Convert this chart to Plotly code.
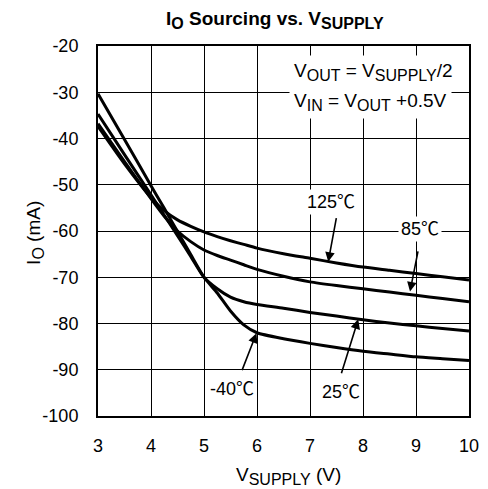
import plotly.graph_objects as go

v_supply = [3, 3.5, 4, 4.25, 4.5, 4.75, 5, 5.25, 5.5, 5.75, 6, 6.5, 7, 7.5, 8, 8.5, 9, 9.5, 10]
io_m40 = [-30.3, -40.2, -50.2, -55.1, -60.1, -65.1, -70.0, -73.4, -77.3, -80.3, -82.0, -83.3, -84.3, -85.2, -86.0, -86.6, -87.2, -87.6, -88.0]
io_25 = [-34.7, -43.5, -52.2, -56.6, -61.0, -65.5, -70.0, -72.5, -74.3, -75.3, -75.9, -76.7, -77.6, -78.4, -79.2, -79.9, -80.5, -81.1, -81.6]
io_85 = [-36.8, -45.0, -53.0, -56.8, -60.0, -62.3, -64.1, -65.3, -66.3, -67.3, -68.3, -69.8, -71.0, -71.8, -72.5, -73.2, -73.9, -74.6, -75.3]
io_125 = [-37.4, -45.5, -52.8, -55.6, -57.6, -59.0, -60.2, -61.2, -62.1, -62.9, -63.7, -64.9, -65.9, -66.9, -67.8, -68.5, -69.2, -69.9, -70.6]

series = [("-40℃", io_m40), ("25℃", io_25), ("85℃", io_85), ("125℃", io_125)]

x_ticks = [3, 4, 5, 6, 7, 8, 9, 10]
y_ticks = [-20, -30, -40, -50, -60, -70, -80, -90, -100]

# label text position, arrow tail, arrow head (data coordinates)
labels = [
    ("125℃", (7.395, -53.8), (7.502, -56.9), (7.344, -66.65)),
    ("85℃", (9.075, -59.6), (9.043, -64.1), (8.887, -73.1)),
    ("25℃", (7.584, -94.8), (7.584, -91.1), (7.91, -79.1)),
    ("-40℃", (5.525, -94.15), (5.708, -90.4), (5.99, -82.1)),
]

FONT = "Arial, Liberation Sans, Noto Sans CJK SC, DejaVu Sans, sans-serif"


def sub(t, px):
    return "<sub><span style='font-size:%dpx'>%s</span></sub>" % (px, t)


fig = go.Figure()
for name, vals in series:
    fig.add_trace(go.Scatter(x=v_supply, y=vals, mode="lines", name=name,
                             line=dict(color="black", width=3, shape="spline", smoothing=0.6),
                             showlegend=False, hoverinfo="skip"))

ann = []
for text, (tx, ty), (ax, ay), (hx, hy) in labels:
    ann.append(dict(x=tx, y=ty, xref="x", yref="y", text=text, showarrow=False,
                    bgcolor="white", borderpad=2, font=dict(size=18, color="black", family=FONT)))
    ann.append(dict(x=hx, y=hy, ax=ax, ay=ay, xref="x", yref="y", axref="x", ayref="y",
                    text="", showarrow=True, arrowhead=2, arrowsize=1.2, arrowwidth=1.6,
                    arrowcolor="black", standoff=0))

ann.append(dict(x=6.6, y=-25.6, xref="x", yref="y", xanchor="left", yanchor="middle",
                text="V" + sub("OUT", 16) + " = V" + sub("SUPPLY", 16) + "/2", showarrow=False,
                bgcolor="white", borderpad=4, font=dict(size=19, color="black", family=FONT)))
ann.append(dict(x=6.6, y=-32.1, xref="x", yref="y", xanchor="left", yanchor="middle",
                text="V" + sub("IN", 16) + " = V" + sub("OUT", 16) + " +0.5V", showarrow=False,
                bgcolor="white", borderpad=4, font=dict(size=19, color="black", family=FONT)))

ann.append(dict(x=0.477, y=1.069, xref="paper", yref="paper", showarrow=False,
                xanchor="center", yanchor="middle",
                text="<b>I" + sub("O", 16) + " Sourcing vs. V" + sub("SUPPLY", 16) + "</b>",
                font=dict(size=19, color="black", family=FONT)))
ann.append(dict(x=-0.168, y=0.494, xref="paper", yref="paper", showarrow=False, textangle=-90,
                xanchor="center", yanchor="middle",
                text="I" + sub("O", 16) + " (mA)", font=dict(size=19, color="black", family=FONT)))
ann.append(dict(x=0.514, y=-0.162, xref="paper", yref="paper", showarrow=False,
                xanchor="center", yanchor="middle",
                text="V" + sub("SUPPLY", 16) + " (V)", font=dict(size=19, color="black", family=FONT)))

fig.update_layout(
    width=488, height=489,
    margin=dict(l=90, r=27, t=38, b=81),
    paper_bgcolor="white", plot_bgcolor="white",
    annotations=ann,
    font=dict(family=FONT, size=18, color="black"),
)
fig.update_xaxes(range=[3, 10], tickvals=x_ticks, ticktext=[str(v) for v in x_ticks],
                 showgrid=True, gridcolor="black", gridwidth=1.3,
                 showline=True, linecolor="black", linewidth=2, mirror=True,
                 ticks="", ticklabelstandoff=12, zeroline=False,
                 tickfont=dict(size=18, family=FONT, color="black"))
fig.update_yaxes(range=[-100, -20], tickvals=y_ticks, ticktext=[str(v) for v in y_ticks],
                 showgrid=True, gridcolor="black", gridwidth=1.3,
                 showline=True, linecolor="black", linewidth=2, mirror=True,
                 ticks="", ticklabelstandoff=14, zeroline=False,
                 tickfont=dict(size=18, family=FONT, color="black"))

fig.write_html("out.html")
